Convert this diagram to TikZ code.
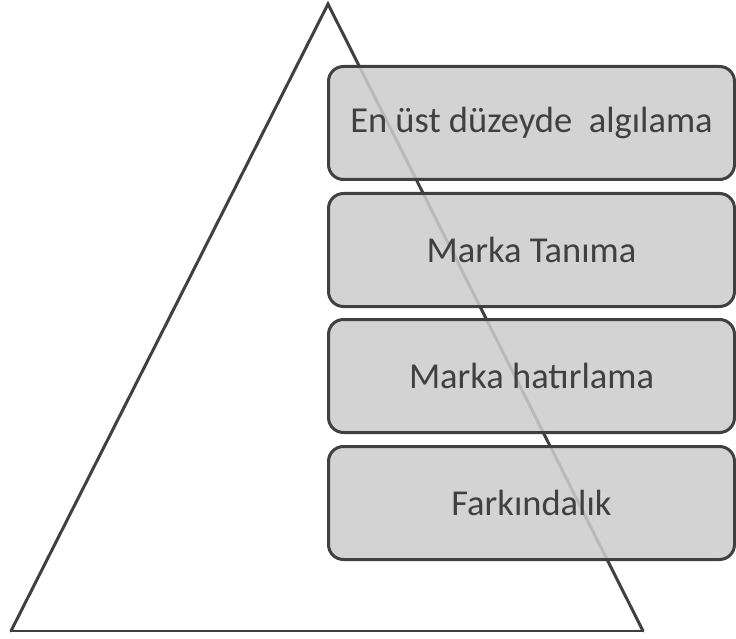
\documentclass[tikz,border=0pt]{standalone}
\usepackage{fontspec}
\setmainfont{Carlito}
\definecolor{edge}{HTML}{404040}
\definecolor{boxfill}{HTML}{CCCCCC}
\definecolor{txt}{HTML}{404040}
\tikzset{
  level/.style={draw=edge, line width=3pt, rounded corners=15pt, fill=boxfill,
    fill opacity=0.87, text opacity=1, minimum width=406pt, minimum height=113pt,
    text=txt, font=\fontsize{36.5}{42}\selectfont, inner sep=0pt, anchor=north west},
  side/.style={draw=edge, line width=3pt, line cap=round},
  base/.style={draw=edge, line width=1.5pt}
}
\begin{document}
\begin{tikzpicture}[x=1pt, y=-1pt]
  \useasboundingbox (0,0) rectangle (736,639);
  % pyramid outline
  \coordinate (apex) at (328,4);
  \coordinate (bl) at (11,631);
  \coordinate (br) at (643,631);
  \draw[side] (bl) -- (apex) -- (br);
  \draw[base] (bl) -- (br);
  % levels
  \node[level] (l1) at (327,65)  {En üst düzeyde\ \ algılama};
  \node[level] (l2) at (327,192) {Marka Tanıma};
  \node[level] (l3) at (327,318) {Marka hatırlama};
  \node[level] (l4) at (327,445) {Farkındalık};
\end{tikzpicture}
\end{document}
